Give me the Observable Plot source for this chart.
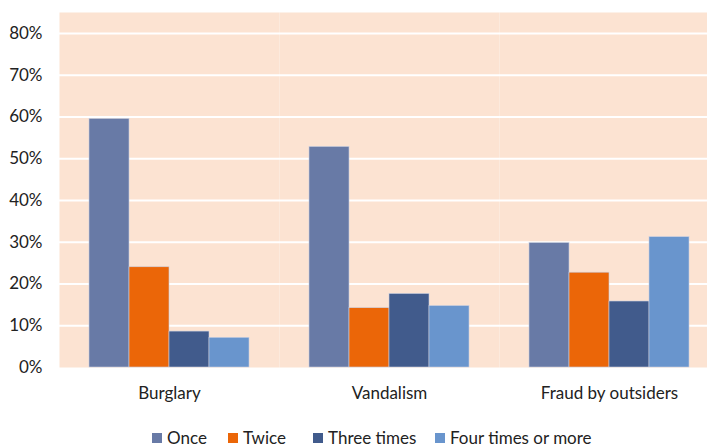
<!DOCTYPE html>
<html>
<head>
<meta charset="utf-8">
<script src="https://cdn.jsdelivr.net/npm/d3@7"></script>
<script src="https://cdn.jsdelivr.net/npm/@observablehq/plot@0.6"></script>
<style>
  html, body { margin: 0; padding: 0; background: #fff; }
  body { width: 707px; height: 447px; overflow: hidden; position: relative; font-family: Lato, "Open Sans", sans-serif; }
  #chart svg { overflow: visible; }
  .item { position: absolute; top: 429px; height: 18px; display: flex; align-items: center; font-size: 17px; color: #222; white-space: nowrap; line-height: 18px; }
  .sw { width: 10px; height: 10px; margin-right: 5px; }
</style>
</head>
<body>
<div id="chart"></div>
<script>
const categories = ["Burglary", "Vandalism", "Fraud by outsiders"];
const series = ["Once", "Twice", "Three times", "Four times or more"];
const colors = ["#687aa6", "#eb6608", "#415b8c", "#6995cd"];
const once = [0.595, 0.528, 0.298];
const twice = [0.240, 0.142, 0.227];
const threeTimes = [0.086, 0.176, 0.158];
const fourOrMore = [0.071, 0.147, 0.312];
const yTicks = [0, 0.1, 0.2, 0.3, 0.4, 0.5, 0.6, 0.7, 0.8];
const legendLeft = [152, 228, 313, 435];

const seriesValues = [once, twice, threeTimes, fourOrMore];
const data = [];
categories.forEach((c, i) => {
  series.forEach((s, j) => data.push({category: c, series: s, value: seriesValues[j][i]}));
});

const chart = Plot.plot({
  width: 707,
  height: 415,
  marginTop: 12,
  marginLeft: 59,
  marginRight: -12,
  marginBottom: 48,
  style: {fontFamily: "Lato, 'Open Sans', sans-serif", fontSize: "17px", color: "#222", background: "transparent", overflow: "visible"},
  fx: {domain: categories, padding: 0, label: null, tickSize: 0, tickPadding: 19, axis: "bottom"},
  x: {domain: series, paddingInner: 0, paddingOuter: 0.75, axis: null},
  y: {domain: [0, 0.85], ticks: yTicks, tickFormat: d => `${Math.round(d * 100)}%`, tickSize: 0, tickPadding: 17, label: null},
  color: {domain: series, range: colors},
  marks: [
    Plot.frame({fill: "#fce3d2", stroke: null}),
    Plot.ruleY(yTicks.filter(d => d > 0), {stroke: "#ffffff", strokeWidth: 2}),
    Plot.barY(data, {
      fx: "category",
      x: "series",
      y: "value",
      fill: "series",
      stroke: "#c9cfe0",
      strokeWidth: 0.6
    })
  ]
});
document.getElementById("chart").appendChild(chart);

series.forEach((s, i) => {
  const item = document.createElement("div");
  item.className = "item";
  item.style.left = legendLeft[i] + "px";
  const sw = document.createElement("div");
  sw.className = "sw";
  sw.style.background = colors[i];
  const t = document.createElement("span");
  t.textContent = s;
  item.appendChild(sw);
  item.appendChild(t);
  document.body.appendChild(item);
});
</script>
</body>
</html>
